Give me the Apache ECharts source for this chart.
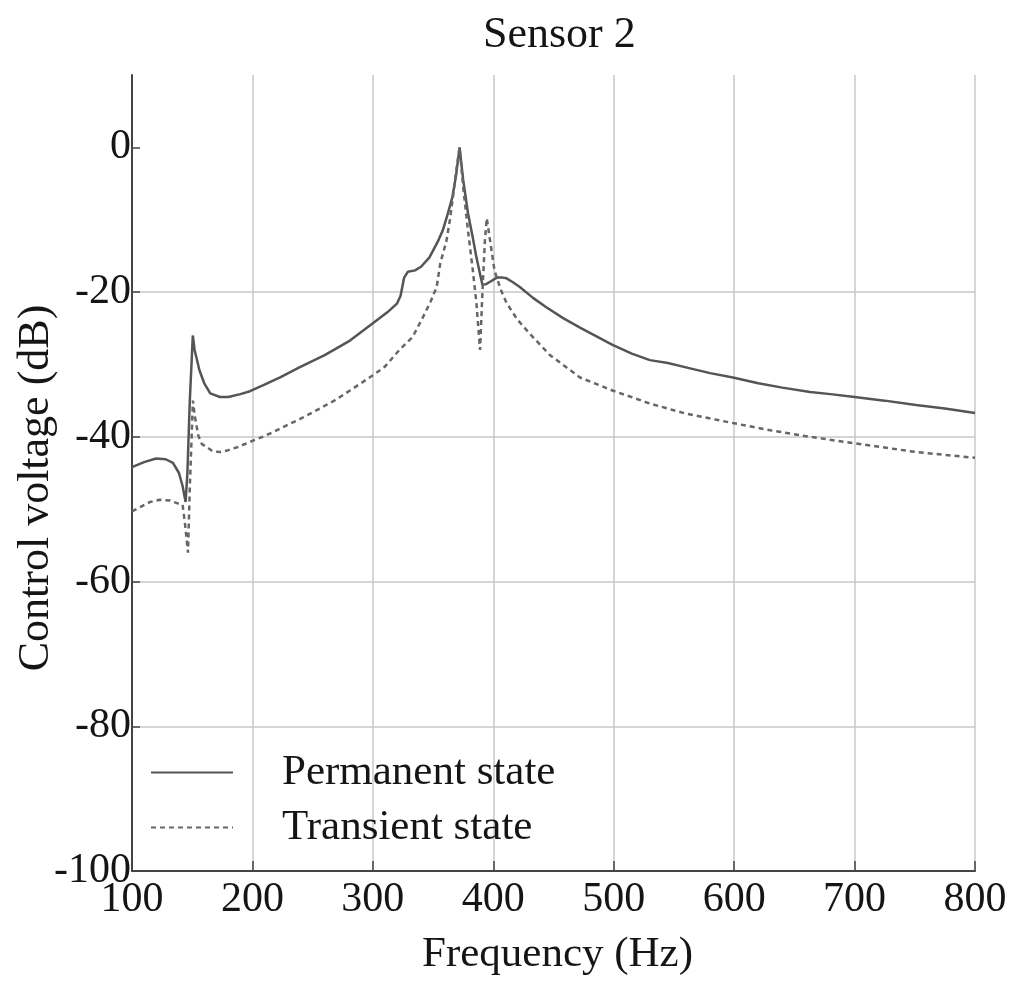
<!DOCTYPE html>
<html>
<head>
<meta charset="utf-8">
<script src="https://cdn.jsdelivr.net/npm/echarts@6/dist/echarts.min.js"></script>
<style>
html,body{margin:0;padding:0;background:#fff;}
#chart{width:1025px;height:989px;}
</style>
</head>
<body>
<div id="chart"></div>
<script>
var titleText = 'Sensor 2';
var xName = 'Frequency (Hz)';
var yName = 'Control voltage (dB)';
var seriesNames = ['Permanent state', 'Transient state'];
var yTickValues = [-100, -80, -60, -40, -20, 0];

var permFreq = [100,110,120,128,134,139,142,144.5,146,148,150.5,152,156,160,165,173,180,190,198,210,223,239,260,281,300,312,320,323,326,329,335,340,347,354,358,362,366,369,372,375,379,383,386,389,391,394,397,403,408,411,416,422,433,444,458,472,499,515,530,545,560,580,599,620,640,663,680,700,725,751,775,800];
var permDb = [-44.2,-43.5,-43.0,-43.1,-43.6,-45,-46.8,-49,-45,-35,-26,-28,-30.8,-32.6,-34,-34.5,-34.5,-34.1,-33.7,-32.8,-31.8,-30.4,-28.7,-26.7,-24.3,-22.8,-21.6,-20.5,-18,-17.2,-17,-16.5,-15.2,-13,-11.5,-9.3,-6.9,-4,0,-4.5,-9.1,-12.5,-15.2,-17.5,-19,-18.9,-18.6,-18,-18,-18.1,-18.6,-19.3,-20.8,-22.1,-23.6,-24.9,-27.3,-28.5,-29.4,-29.8,-30.4,-31.2,-31.8,-32.6,-33.2,-33.8,-34.1,-34.5,-35.0,-35.6,-36.1,-36.7];

var transFreq = [100,108,115,123,131.5,138,142,144,146.5,148,150.6,152,155,158,162,167,173,179,188,198,210,225,240,253.5,268,281,300,310,322,333,341.5,348,353,356,361,364,366.5,369,372,375,379,383,386,389,391,393,394.6,397,401,406,411,420,430,447,472,499,530,560,599,630,663,700,751,800];
var transDb = [-50.3,-49.6,-49,-48.7,-48.8,-49.2,-49.4,-52,-56,-47,-35,-37,-39.8,-41,-41.4,-42.0,-42.1,-41.9,-41.4,-40.7,-39.9,-38.7,-37.5,-36.3,-35,-33.6,-31.5,-30.3,-28,-26.2,-23.5,-21.3,-19.3,-16,-13,-10,-6.9,-3.5,0,-5.5,-11.5,-17,-21.5,-28,-20,-13,-9.8,-12.5,-17,-19.6,-21.5,-23.8,-25.7,-28.7,-31.8,-33.6,-35.4,-36.8,-38.1,-39.1,-40,-40.9,-42.1,-42.9];

function pairs(xs, ys) {
  var out = [];
  for (var i = 0; i < xs.length; i++) out.push([xs[i], ys[i]]);
  return out;
}

var font = 'Liberation Serif';
var textColor = '#151515';
var chart = echarts.init(document.getElementById('chart'), null, {renderer: 'canvas'});
chart.setOption({
  animation: false,
  backgroundColor: '#ffffff',
  title: {
    text: titleText,
    left: 478,
    top: 8,
    textStyle: {fontFamily: font, fontSize: 44, fontWeight: 'normal', color: textColor}
  },
  legend: {
    orient: 'vertical',
    left: 145,
    top: 746,
    itemWidth: 82,
    itemHeight: 14,
    itemGap: 12,
    data: seriesNames,
    itemStyle: {opacity: 0},
    textStyle: {fontFamily: font, fontSize: 43, color: textColor, lineHeight: 43, padding: [0, 0, 0, 44]}
  },
  grid: {left: 132, right: 50, top: 75, bottom: 118, containLabel: false, outerBoundsMode: 'none'},
  xAxis: {
    type: 'value',
    min: 100,
    max: 800,
    interval: 100,
    name: xName,
    nameLocation: 'middle',
    nameGap: 62,
    nameMoveOverlap: false,
    nameTextStyle: {fontFamily: font, fontSize: 43, color: textColor, padding: [0, 0, 0, 8]},
    axisLine: {show: true, onZero: false, lineStyle: {color: '#444', width: 2}},
    axisTick: {show: true, inside: true, length: 10, lineStyle: {color: '#444', width: 1.5}},
    axisLabel: {fontFamily: font, fontSize: 42, color: textColor, margin: 8},
    splitLine: {show: true, lineStyle: {color: '#c8c8c8', width: 1.5}}
  },
  yAxis: {
    type: 'value',
    min: -100,
    max: 10,
    interval: 20,
    name: yName,
    nameLocation: 'middle',
    nameGap: 74,
    nameMoveOverlap: false,
    nameTextStyle: {fontFamily: font, fontSize: 44, color: textColor, padding: [0, 30, 0, 0]},
    axisLine: {show: true, onZero: false, lineStyle: {color: '#444', width: 2}},
    axisTick: {show: true, inside: true, length: 8, customValues: yTickValues, lineStyle: {color: '#444', width: 1.5}},
    axisLabel: {fontFamily: font, fontSize: 42, color: textColor, margin: 1, customValues: yTickValues},
    splitLine: {show: true, showMaxLine: false, lineStyle: {color: '#c8c8c8', width: 1.5}}
  },
  series: [
    {
      name: seriesNames[0],
      type: 'line',
      data: pairs(permFreq, permDb),
      symbol: 'none',
      smooth: false,
      lineStyle: {color: '#555', width: 2.5},
      itemStyle: {color: '#555'}
    },
    {
      name: seriesNames[1],
      type: 'line',
      data: pairs(transFreq, transDb),
      symbol: 'none',
      smooth: false,
      lineStyle: {color: '#666', width: 2.5, type: [5, 4]},
      itemStyle: {color: '#666'}
    }
  ]
});
</script>
</body>
</html>
